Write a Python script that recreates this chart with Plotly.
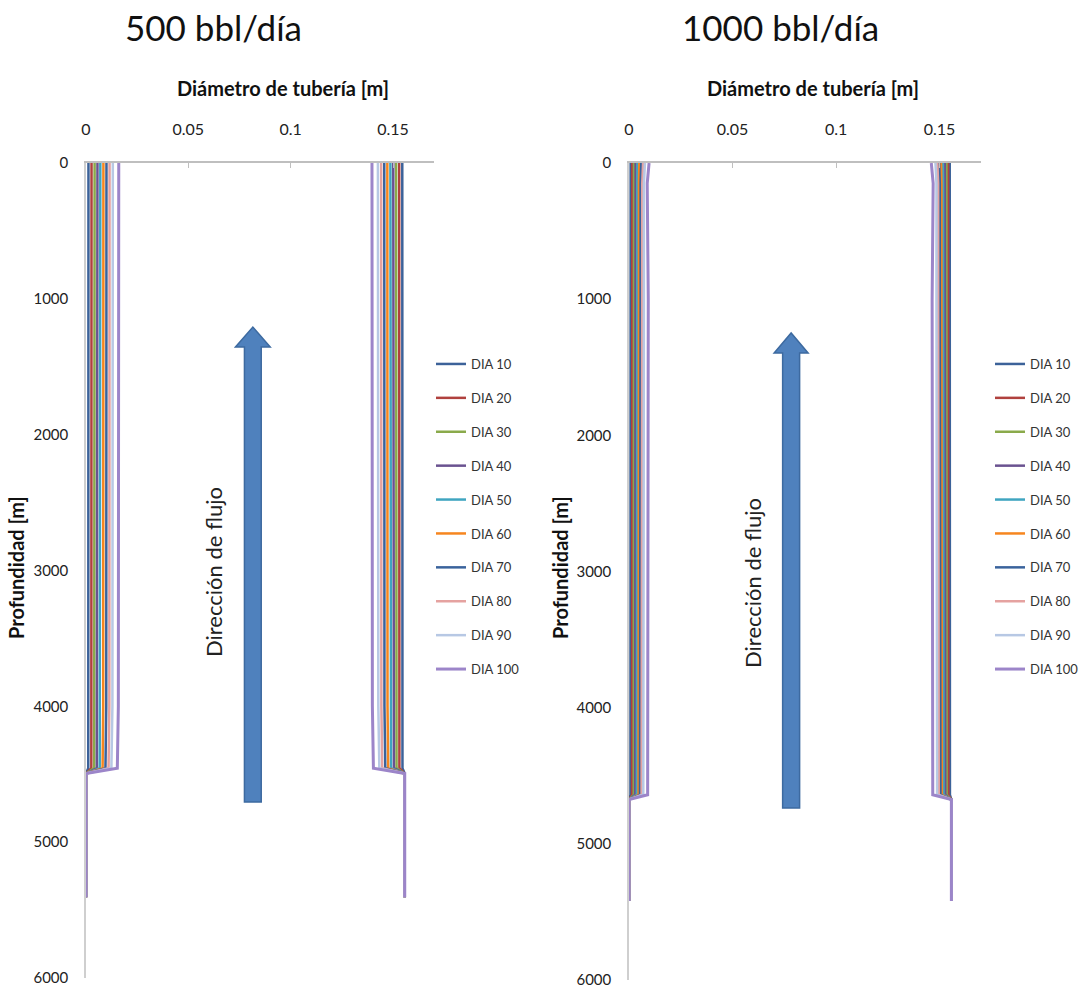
import plotly.graph_objects as go

# Wall deposit profiles along the well, two flow rates
series_names = ["DIA 10", "DIA 20", "DIA 30", "DIA 40", "DIA 50",
                "DIA 60", "DIA 70", "DIA 80", "DIA 90", "DIA 100"]
series_colors = ["#3C6299", "#B0413E", "#8AAA4B", "#6A5290", "#3FA5C0",
                 "#F6861F", "#3A639C", "#E5A2A0", "#B7C8E4", "#9C85C9"]

pipe_diameter = 0.1557  # m

# 500 bbl/dia
depth_500 = [0, 1000, 2000, 3000, 4000, 4455, 4495, 5405]
deposit_500 = [
    [0.0012, 0.0012, 0.0012, 0.0012, 0.0012, 0.0011, 0, 0],
    [0.0027, 0.0027, 0.0027, 0.0027, 0.0027, 0.0026, 0, 0],
    [0.0042, 0.0042, 0.0042, 0.0042, 0.0041, 0.0040, 0, 0],
    [0.0056, 0.0056, 0.0056, 0.0056, 0.0055, 0.0053, 0, 0],
    [0.0070, 0.0070, 0.0070, 0.0070, 0.0069, 0.0067, 0, 0],
    [0.0085, 0.0085, 0.0085, 0.0085, 0.0084, 0.0081, 0, 0],
    [0.0100, 0.0100, 0.0100, 0.0100, 0.0099, 0.0095, 0, 0],
    [0.0115, 0.0115, 0.0115, 0.0115, 0.0114, 0.0110, 0, 0],
    [0.0131, 0.0131, 0.0131, 0.0131, 0.0129, 0.0124, 0, 0],
    [0.0160, 0.0160, 0.0160, 0.0160, 0.0158, 0.0153, 0, 0],
]

# 1000 bbl/dia
depth_1000 = [0, 150, 1000, 2000, 3000, 4000, 4640, 4675, 5420]
deposit_1000 = [
    [0.0008, 0.0008, 0.0008, 0.0008, 0.0008, 0.0008, 0.0007, 0, 0],
    [0.0016, 0.0016, 0.0016, 0.0016, 0.0016, 0.0016, 0.0015, 0, 0],
    [0.0024, 0.0024, 0.0024, 0.0024, 0.0024, 0.0024, 0.0023, 0, 0],
    [0.0032, 0.0032, 0.0032, 0.0032, 0.0032, 0.0032, 0.0030, 0, 0],
    [0.0041, 0.0040, 0.0040, 0.0040, 0.0040, 0.0040, 0.0038, 0, 0],
    [0.0050, 0.0048, 0.0048, 0.0048, 0.0048, 0.0048, 0.0046, 0, 0],
    [0.0059, 0.0056, 0.0056, 0.0056, 0.0056, 0.0056, 0.0053, 0, 0],
    [0.0068, 0.0064, 0.0064, 0.0064, 0.0064, 0.0064, 0.0061, 0, 0],
    [0.0077, 0.0072, 0.0072, 0.0072, 0.0072, 0.0072, 0.0069, 0, 0],
    [0.0097, 0.0088, 0.0093, 0.0093, 0.0093, 0.0093, 0.0090, 0, 0],
]

x_ticks = [0, 0.05, 0.1, 0.15]
x_ticktext = ["0", "0.05", "0.1", "0.15"]
y_ticks = [0, 1000, 2000, 3000, 4000, 5000, 6000]

FONT = "Lato, Open Sans, sans-serif"
W, H = 1082, 993

fig = go.Figure()


def add_panel(depth, deposits, xa, ya, legend):
    for name, color, dep in zip(series_names, series_colors, deposits):
        # inner wall on the left, opposite wall at D - thickness
        x = dep + [None] + [pipe_diameter - d for d in dep]
        y = depth + [None] + depth
        fig.add_trace(go.Scatter(
            x=x, y=y, mode="lines", name=name,
            line=dict(color=color, width=3 if name == "DIA 100" else 2.5),
            xaxis=xa, yaxis=ya, legend=legend, legendgroup=legend + name,
            hoverinfo="skip",
        ))


add_panel(depth_500, deposit_500, "x", "y", "legend")
add_panel(depth_1000, deposit_1000, "x2", "y2", "legend2")


def arrow(xref, yref, cx, hs, hh, tip, base, bottom):
    path = (f"M {cx-hs},{bottom} L {cx-hs},{base} L {cx-hh},{base} L {cx},{tip} "
            f"L {cx+hh},{base} L {cx+hs},{base} L {cx+hs},{bottom} Z")
    fig.add_shape(type="path", path=path, xref=xref, yref=yref,
                  fillcolor="#4F81BD", line=dict(color="#3D6AA0", width=1.5))


arrow("x", "y", 0.0815, 0.0041, 0.0085, 1208, 1355, 4705)
arrow("x2", "y2", 0.0783, 0.0041, 0.0082, 1248, 1395, 4736)

xdom1 = [86 / W, 434 / W]
xdom2 = [629 / W, 981 / W]
ydom1 = [1 - 978 / H, 1 - 163 / H]
ydom2 = [1 - 980 / H, 1 - 163 / H]

xcommon = dict(side="top", tickvals=x_ticks, ticktext=x_ticktext, range=[0, 0.17],
               ticks="inside", ticklen=5, tickcolor="#BFBFBF", showline=True,
               linecolor="#BFBFBF", linewidth=1.5, showgrid=False, zeroline=False,
               tickfont=dict(size=16, color="#222"), ticklabelstandoff=20,
               automargin=False)
ycommon = dict(tickvals=y_ticks, range=[6000, 0], ticks="", showline=True,
               linecolor="#CFCFCF", linewidth=1.5, showgrid=False, zeroline=False,
               layer="below traces", tickfont=dict(size=15, color="#222"),
               ticklabelstandoff=13, automargin=False)

legend_style = dict(yanchor="top", xanchor="left", font=dict(size=13, color="#333"),
                    tracegroupgap=14, bgcolor="rgba(0,0,0,0)", itemwidth=30)

fig.update_layout(
    width=W, height=H,
    margin=dict(l=0, r=0, t=0, b=0, autoexpand=False),
    plot_bgcolor="white", paper_bgcolor="white",
    font=dict(family=FONT, color="#222"),
    xaxis=dict(domain=xdom1, anchor="y", **xcommon),
    yaxis=dict(domain=ydom1, anchor="x", **ycommon),
    xaxis2=dict(domain=xdom2, anchor="y2", **xcommon),
    yaxis2=dict(domain=ydom2, anchor="x2", **ycommon),
    legend=dict(x=431 / W, y=1 - 349 / H, **legend_style),
    legend2=dict(x=990 / W, y=1 - 349 / H, **legend_style),
    showlegend=True,
)

annotations = [
    dict(text="500 bbl/día", x=213 / W, y=1 - 27 / H, size=35),
    dict(text="1000 bbl/día", x=780 / W, y=1 - 27 / H, size=35),
    dict(text="<b>Diámetro de tubería [m]</b>", x=283 / W, y=1 - 88 / H, size=20),
    dict(text="<b>Diámetro de tubería [m]</b>", x=813 / W, y=1 - 88 / H, size=20),
    dict(text="<b>Profundidad [m]</b>", x=16 / W, y=1 - 568 / H, size=20, angle=-90),
    dict(text="<b>Profundidad [m]</b>", x=560 / W, y=1 - 568 / H, size=20, angle=-90),
]
for a in annotations:
    fig.add_annotation(text=a["text"], x=a["x"], y=a["y"], xref="paper", yref="paper",
                       showarrow=False, textangle=a.get("angle", 0),
                       font=dict(size=a["size"], color="#111"),
                       xanchor="center", yanchor="middle")

fig.add_annotation(text="Dirección de flujo", x=0.062, y=3012, xref="x", yref="y",
                   showarrow=False, textangle=-90, font=dict(size=22, color="#222"))
fig.add_annotation(text="Dirección de flujo", x=0.0599, y=3084, xref="x2", yref="y2",
                   showarrow=False, textangle=-90, font=dict(size=22, color="#222"))

fig.write_html("out.html", config={"displayModeBar": False},
               post_script="document.body.style.margin='0';")
